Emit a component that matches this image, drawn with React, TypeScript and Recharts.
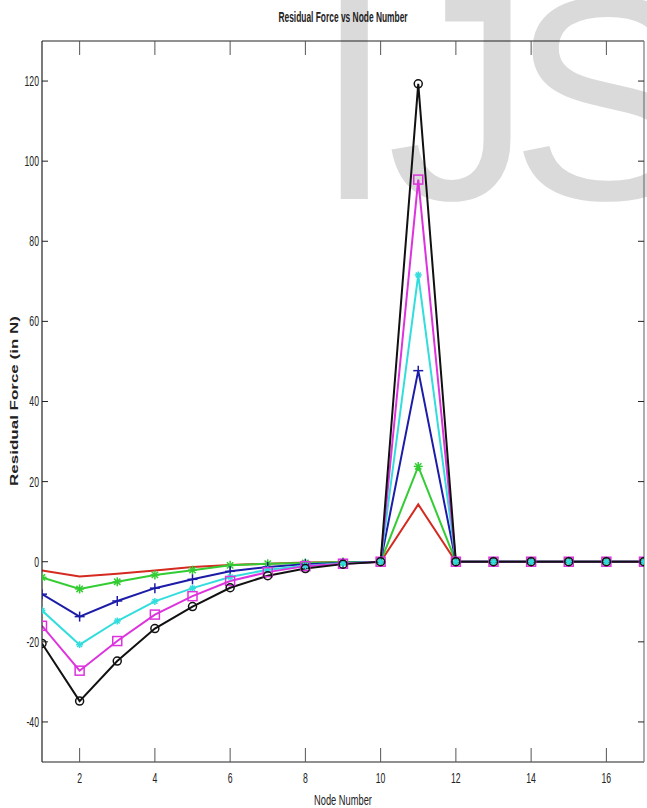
import { LineChart, Line, XAxis, YAxis } from 'recharts'

const NODES = [1, 2, 3, 4, 5, 6, 7, 8, 9, 10, 11, 12, 13, 14, 15, 16, 17]
const RED = [-2.2, -3.7, -3.0, -2.2, -1.3, -0.8, -0.5, -0.2, -0.1, 0, 14.3, 0, 0, 0, 0, 0, 0]
const GREEN = [-3.9, -6.8, -5.0, -3.3, -2.1, -0.9, -0.5, -0.3, -0.1, 0, 23.8, 0, 0, 0, 0, 0, 0]
const BLUE = [-8.1, -13.7, -9.8, -6.6, -4.4, -2.4, -1.3, -0.6, -0.3, 0, 47.7, 0, 0, 0, 0, 0, 0]
const CYAN = [-12.2, -20.7, -14.8, -9.9, -6.6, -3.8, -2.0, -1.0, -0.4, 0, 71.6, 0, 0, 0, 0, 0, 0]
const MAGENTA = [-16.0, -27.2, -19.8, -13.2, -8.6, -4.8, -2.6, -1.1, -0.5, 0, 95.4, 0, 0, 0, 0, 0, 0]
const BLACK = [-20.4, -34.8, -24.8, -16.7, -11.2, -6.5, -3.5, -1.7, -0.6, 0, 119.3, 0, 0, 0, 0, 0, 0]

const X_TICKS = [2, 4, 6, 8, 10, 12, 14, 16]
const Y_TICKS = [-40, -20, 0, 20, 40, 60, 80, 100, 120]

const data = NODES.map((node, i) => ({
  node,
  red: RED[i],
  green: GREEN[i],
  blue: BLUE[i],
  cyan: CYAN[i],
  magenta: MAGENTA[i],
  black: BLACK[i],
}))

const FONT = "'Liberation Sans', Arial, sans-serif"
const AXIS = '#222'
// the figure was stretched vertically, so text comes out tall and narrow
const SQUEEZE = 0.62

type Shape = 'star' | 'plus' | 'square' | 'circle'

// matlab style markers
function marker(shape: Shape, color: string, s: number) {
  return (p: any) => {
    const { cx, cy, index } = p
    if (cx == null || cy == null) return <g key={index} />
    if (shape === 'square')
      return <rect key={index} x={cx - s} y={cy - s} width={s * 2} height={s * 2} fill="none" stroke={color} strokeWidth={1.5} />
    if (shape === 'circle')
      return <circle key={index} cx={cx} cy={cy} r={s} fill="none" stroke={color} strokeWidth={1.5} />
    const d = s * 0.7
    return (
      <g key={index} stroke={color} strokeWidth={1.5}>
        <line x1={cx - s} y1={cy} x2={cx + s} y2={cy} />
        <line x1={cx} y1={cy - s} x2={cx} y2={cy + s} />
        {shape === 'star' && <line x1={cx - d} y1={cy - d} x2={cx + d} y2={cy + d} />}
        {shape === 'star' && <line x1={cx - d} y1={cy + d} x2={cx + d} y2={cy - d} />}
      </g>
    )
  }
}

function NarrowTick(props: any) {
  const { x, y, payload, textAnchor, orientation } = props
  return (
    <g transform={`translate(${x},${y})`}>
      <text
        transform={`scale(${SQUEEZE},1)`}
        textAnchor={textAnchor}
        dy={orientation === 'bottom' ? '0.71em' : '0.355em'}
        fontSize={14}
        fontFamily={FONT}
        fill="#222"
      >
        {payload.value}
      </text>
    </g>
  )
}

// tick marks only, no label
const NoLabel = () => null

export default function App() {
  return (
    <div style={{ position: 'absolute', left: 0, top: 0, width: 647, height: 808, background: '#fff', overflow: 'hidden' }}>
      <svg width={647} height={808} style={{ position: 'absolute', left: 0, top: 0 }}>
        <g fontSize={290} fontFamily={FONT} fill="#dadada">
          <text x={314} y={199}>I</text>
          <text x={387} y={199}>J</text>
          <text x={510} y={199}>S</text>
        </g>
        <text transform={`translate(343,22) scale(0.6,1)`} textAnchor="middle" fontSize={14} fontWeight="bold" fontFamily={FONT} fill="#222">
          Residual Force vs Node Number
        </text>
        <text transform={`translate(343,805) scale(${SQUEEZE},1)`} textAnchor="middle" fontSize={15} fontFamily={FONT} fill="#222">
          Node Number
        </text>
        <text
          transform={`translate(14,401) rotate(-90) scale(1,${SQUEEZE})`}
          textAnchor="middle"
          dy="0.35em"
          fontSize={17}
          fontWeight="bold"
          fontFamily={FONT}
          fill="#222"
        >
          Residual Force (in N)
        </text>
      </svg>
      <div style={{ position: 'absolute', left: 0, top: 0 }}>
        <LineChart width={647} height={808} data={data} margin={{ top: 41, right: 3, left: 0, bottom: 0 }}>
          <XAxis
            xAxisId="b"
            dataKey="node"
            type="number"
            domain={[1, 17]}
            ticks={X_TICKS}
            allowDataOverflow
            height={46}
            tickSize={0}
            tickMargin={11}
            tickLine={false}
            axisLine={{ stroke: AXIS, strokeWidth: 1.2 }}
            tick={<NarrowTick orientation="bottom" />}
          />
          <XAxis
            xAxisId="bm"
            dataKey="node"
            type="number"
            domain={[1, 17]}
            ticks={X_TICKS}
            allowDataOverflow
            height={1}
            mirror
            tick={NoLabel}
            tickSize={14}
            axisLine={false}
            tickLine={{ stroke: '#555' }}
          />
          <XAxis
            xAxisId="t"
            dataKey="node"
            orientation="top"
            type="number"
            domain={[1, 17]}
            ticks={X_TICKS}
            allowDataOverflow
            height={1}
            mirror
            tick={NoLabel}
            tickSize={14}
            axisLine={{ stroke: AXIS, strokeWidth: 1.2 }}
            tickLine={{ stroke: '#555' }}
          />
          <YAxis
            yAxisId="l"
            type="number"
            domain={[-50, 130]}
            ticks={Y_TICKS}
            allowDataOverflow
            width={42}
            tickSize={0}
            tickMargin={3}
            tickLine={false}
            axisLine={{ stroke: AXIS, strokeWidth: 1.2 }}
            tick={<NarrowTick orientation="left" />}
          />
          <YAxis
            yAxisId="lm"
            type="number"
            domain={[-50, 130]}
            ticks={Y_TICKS}
            allowDataOverflow
            width={1}
            mirror
            tick={NoLabel}
            tickSize={6}
            axisLine={false}
            tickLine={{ stroke: AXIS }}
          />
          <YAxis
            yAxisId="r"
            orientation="right"
            type="number"
            domain={[-50, 130]}
            ticks={Y_TICKS}
            allowDataOverflow
            width={1}
            mirror
            tick={NoLabel}
            tickSize={6}
            axisLine={{ stroke: '#777', strokeWidth: 1.2 }}
            tickLine={{ stroke: AXIS }}
          />
          {/* invisible series so the box axes get drawn */}
          <Line xAxisId="t" yAxisId="r" dataKey="black" stroke="none" dot={false} activeDot={false} isAnimationActive={false} />
          <Line xAxisId="bm" yAxisId="lm" dataKey="black" stroke="none" dot={false} activeDot={false} isAnimationActive={false} />
          <Line xAxisId="b" yAxisId="l" dataKey="red" stroke="#d42a20" strokeWidth={2} dot={false} isAnimationActive={false} />
          <Line xAxisId="b" yAxisId="l" dataKey="green" stroke="#33cc33" strokeWidth={2} dot={marker('star', '#33cc33', 4.5)} isAnimationActive={false} />
          <Line xAxisId="b" yAxisId="l" dataKey="blue" stroke="#1c1ca8" strokeWidth={2} dot={marker('plus', '#1c1ca8', 5)} isAnimationActive={false} />
          <Line xAxisId="b" yAxisId="l" dataKey="cyan" stroke="#33dddd" strokeWidth={2} dot={marker('star', '#33dddd', 3.5)} isAnimationActive={false} />
          <Line xAxisId="b" yAxisId="l" dataKey="magenta" stroke="#dd33dd" strokeWidth={2} dot={marker('square', '#dd33dd', 4.5)} isAnimationActive={false} />
          <Line xAxisId="b" yAxisId="l" dataKey="black" stroke="#111" strokeWidth={2} dot={marker('circle', '#111', 4)} isAnimationActive={false} />
        </LineChart>
      </div>
    </div>
  )
}
